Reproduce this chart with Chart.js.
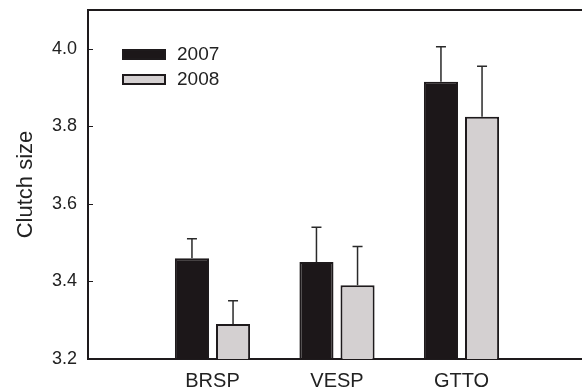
<!DOCTYPE html>
<html>
<head>
<meta charset="utf-8">
<script src="https://cdn.jsdelivr.net/npm/chart.js@4.4.1/dist/chart.umd.min.js"></script>
<style>
  html, body { margin: 0; padding: 0; overflow: hidden; background: #fff; }
  #wrap { width: 596px; height: 392px; }
</style>
</head>
<body>
<div id="wrap"><canvas id="chart"></canvas></div>
<script>
// values
var species = ['BRSP', 'VESP', 'GTTO'];
var years = ['2007', '2008'];
var clutch2007 = [3.46, 3.45, 3.915];
var clutch2008 = [3.29, 3.39, 3.825];
var err2007 = [0.05, 0.09, 0.09];
var err2008 = [0.06, 0.10, 0.13];
var yTicks = [3.2, 3.4, 3.6, 3.8, 4.0];

var ink = '#1e1a1c';
var font = 'Arial, "Liberation Sans", sans-serif';

// blank slots on each side so the groups sit like the original
var labels = [''].concat(species, ['']);
function pad(arr) { return [null].concat(arr, [null]); }

var errorBars = {
    id: 'errorBars',
    afterDatasetsDraw: function (chart) {
        var ctx = chart.ctx;
        var y = chart.scales.y;
        var errs = [err2007, err2008];
        ctx.save();
        ctx.strokeStyle = '#2a2a2a';
        ctx.lineWidth = 1.5;
        chart.data.datasets.forEach(function (ds, di) {
            var meta = chart.getDatasetMeta(di);
            meta.data.forEach(function (bar, i) {
                if (ds.data[i] == null) return;
                var e = errs[di][i - 1];
                var top = y.getPixelForValue(ds.data[i] + e);
                ctx.beginPath();
                ctx.moveTo(bar.x, bar.y);
                ctx.lineTo(bar.x, top);
                ctx.moveTo(bar.x - 5, top);
                ctx.lineTo(bar.x + 5, top);
                ctx.stroke();
            });
        });
        ctx.restore();
    }
};

var frame = {
    id: 'frame',
    afterDraw: function (chart) {
        var ctx = chart.ctx;
        var y = chart.scales.y;
        var x = chart.scales.x;
        var top = Math.round(y.getPixelForValue(y.max));
        ctx.save();
        // top border of the plot
        ctx.fillStyle = ink;
        ctx.fillRect(x.left - 1, top - 1, chart.width - x.left + 1, 2);
        // small inward ticks on the y axis
        ctx.strokeStyle = ink;
        ctx.lineWidth = 1;
        yTicks.forEach(function (v) {
            var py = Math.round(y.getPixelForValue(v)) + 0.5;
            ctx.beginPath();
            ctx.moveTo(x.left, py);
            ctx.lineTo(x.left + 5, py);
            ctx.stroke();
        });
        // legend
        ctx.font = '19px ' + font;
        ctx.textBaseline = 'middle';
        chart.data.datasets.forEach(function (ds, i) {
            var ly = top + 39 + i * 25;
            ctx.fillStyle = ds.backgroundColor;
            ctx.fillRect(x.left + 34, ly, 44, 11);
            ctx.strokeStyle = ink;
            ctx.lineWidth = 2;
            ctx.strokeRect(x.left + 35, ly + 1, 42, 9);
            ctx.fillStyle = '#222';
            ctx.fillText(ds.label, x.left + 89, ly + 6);
        });
        ctx.restore();
    }
};

new Chart(document.getElementById('chart'), {
    type: 'bar',
    data: {
        labels: labels,
        datasets: [
            { label: years[0], data: pad(clutch2007), backgroundColor: '#1c1719', borderColor: ink, borderWidth: 2 },
            { label: years[1], data: pad(clutch2008), backgroundColor: '#d4d0d1', borderColor: ink, borderWidth: 2 }
        ]
    },
    options: {
        responsive: true,
        maintainAspectRatio: false,
        animation: false,
        layout: { padding: 0 },
        plugins: { legend: { display: false }, tooltip: { enabled: false } },
        datasets: { bar: { categoryPercentage: 0.66, barPercentage: 0.83 } },
        scales: {
            x: {
                offset: false,
                grid: { display: false, drawTicks: false },
                border: { display: true, color: ink, width: 2 },
                ticks: { color: '#222', font: { family: font, size: 20 }, padding: 10, maxRotation: 0, autoSkip: false },
                afterFit: function (s) { s.height = 33; }
            },
            y: {
                min: 3.2,
                max: 4.1,
                afterBuildTicks: function (s) { s.ticks = yTicks.map(function (v) { return { value: v }; }); },
                grid: { display: false, drawTicks: false },
                border: { display: true, color: ink, width: 2 },
                ticks: {
                    color: '#222',
                    font: { family: font, size: 18, lineHeight: 1.1 },
                    padding: 11,
                    callback: function (v) { return v.toFixed(1); }
                },
                title: { display: true, text: 'Clutch size', color: '#222', font: { family: font, size: 22 }, padding: { top: 13, bottom: 0 } },
                afterFit: function (s) { s.width = 88; s.paddingTop = 10; s.paddingBottom = 0; }
            }
        }
    },
    plugins: [errorBars, frame]
});
</script>
</body>
</html>
